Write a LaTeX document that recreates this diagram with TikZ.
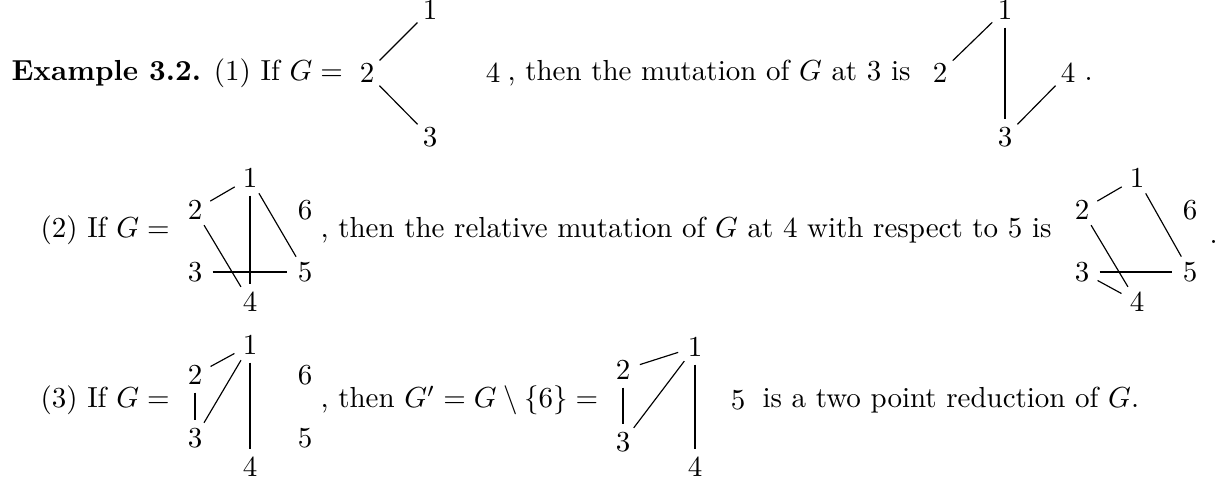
\documentclass[tikz,border=0pt]{standalone}
\usepackage{amsmath}

\begin{document}
\begin{tikzpicture}[
    x=0.345pt, y=-0.345pt,
    vtx/.style={circle, inner sep=1.3pt},
    txt/.style={anchor=base west, inner sep=0pt},
    simple/.style={line width=0.4pt},
    double/.style={line width=0.95pt}
]

\useasboundingbox (0,0) rectangle (1228,483);

% Row (1): G and its mutation at 3
\node[txt] (r1a) at (11,81) {\textbf{Example 3.2.} (1) If $G=$};
\node[vtx] (a1) at (430,10)  {$1$};
\node[vtx] (a2) at (367,73)  {$2$};
\node[vtx] (a3) at (430,137) {$3$};
\node[vtx] (a4) at (493,73)  {$4$};
\node[txt] (r1b) at (507,81) {, then the mutation of $G$ at 3 is};
\node[vtx] (b1) at (1005,10)  {$1$};
\node[vtx] (b2) at (940,73)   {$2$};
\node[vtx] (b3) at (1005,137) {$3$};
\node[vtx] (b4) at (1068,73)  {$4$};
\node[txt] (r1c) at (1084,81) {.};

\draw[simple] (a2) -- (a1);
\draw[simple] (a2) -- (a3);
\draw[simple] (b2) -- (b1);
\draw[double] (b1) -- (b3);
\draw[simple] (b3) -- (b4);

% Row (2): relative mutation at 4 with respect to 5
\node[txt] (r2a) at (40,238) {(2) If $G=$};
\node[vtx] (c1) at (250,178) {$1$};
\node[vtx] (c2) at (195,210) {$2$};
\node[vtx] (c6) at (305,210) {$6$};
\node[vtx] (c3) at (195,272) {$3$};
\node[vtx] (c5) at (305,272) {$5$};
\node[vtx] (c4) at (250,302) {$4$};
\node[txt] (r2b) at (320,238) {, then the relative mutation of $G$ at 4 with respect to 5 is};
\node[vtx] (d1) at (1137,178) {$1$};
\node[vtx] (d2) at (1082,210) {$2$};
\node[vtx] (d6) at (1190,210) {$6$};
\node[vtx] (d3) at (1082,272) {$3$};
\node[vtx] (d5) at (1190,272) {$5$};
\node[vtx] (d4) at (1137,302) {$4$};
\node[txt] (r2c) at (1209,244) {.};

\draw[simple] (c2) -- (c1);
\draw[double] (c1) -- (c4);
\draw[simple] (c1) -- (c5);
\draw[simple] (c2) -- (c4);
\draw[double] (c3) -- (c5);

\draw[simple] (d2) -- (d1);
\draw[simple] (d1) -- (d5);
\draw[simple] (d2) -- (d4);
\draw[double] (d3) -- (d5);
\draw[simple] (d3) -- (d4);

% Row (3): two point reduction
\node[txt] (r3a) at (40,408) {(3) If $G=$};
\node[vtx] (e1) at (250,345) {$1$};
\node[vtx] (e2) at (195,375) {$2$};
\node[vtx] (e6) at (305,375) {$6$};
\node[vtx] (e3) at (195,438) {$3$};
\node[vtx] (e5) at (305,438) {$5$};
\node[vtx] (e4) at (250,467) {$4$};
\node[txt] (r3b) at (320,408) {, then $G'=G\setminus\{6\}=$};
\node[vtx] (f1) at (695,347) {$1$};
\node[vtx] (f2) at (623,370) {$2$};
\node[vtx] (f3) at (623,442) {$3$};
\node[vtx] (f4) at (695,467) {$4$};
\node[vtx] (f5) at (738,400) {$5$};
\node[txt] (r3c) at (762,408) {is a two point reduction of $G$.};

\draw[simple] (e2) -- (e1);
\draw[double] (e2) -- (e3);
\draw[simple] (e3) -- (e1);
\draw[double] (e1) -- (e4);

\draw[simple] (f2) -- (f1);
\draw[double] (f2) -- (f3);
\draw[simple] (f3) -- (f1);
\draw[double] (f1) -- (f4);

\end{tikzpicture}
\end{document}
